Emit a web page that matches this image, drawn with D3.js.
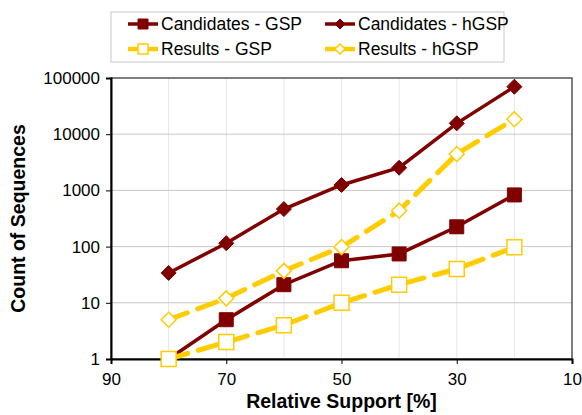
<!DOCTYPE html>
<html>
<head>
<meta charset="utf-8">
<script src="https://cdn.jsdelivr.net/npm/d3@7"></script>
<style>
  body { margin: 0; background: #fff; }
  text { font-family: "Liberation Sans", Arial, sans-serif; }
</style>
</head>
<body>
<svg id="chart" width="582" height="415"></svg>
<script>
// chart data
var support = [80, 70, 60, 50, 40, 30, 20];
var candGSP = [1, 5, 21, 56, 74, 225, 830];
var candHGSP = [34, 115, 465, 1250, 2530, 15600, 70000];
var resGSP = [1, 2, 4, 10, 21, 40, 97];
var resHGSP = [5, 12, 37, 98, 436, 4450, 18500];
var xTicks = [90, 70, 50, 30, 10];
var yTicks = [1, 10, 100, 1000, 10000, 100000];

var series = [
  { name: "Candidates - GSP", values: candGSP, color: "#800000", shape: "square", filled: true, dash: null },
  { name: "Candidates - hGSP", values: candHGSP, color: "#800000", shape: "diamond", filled: true, dash: null },
  { name: "Results - GSP", values: resGSP, color: "#ffcc00", shape: "square", filled: false, dash: "20,11" },
  { name: "Results - hGSP", values: resHGSP, color: "#ffcc00", shape: "diamond", filled: false, dash: "20,11" }
];

var svg = d3.select("#chart");
var plotL = 111, plotR = 572, plotT = 78, plotB = 359;

var x = d3.scaleLinear().domain([90, 10]).range([plotL, plotR]);
var y = d3.scaleLog().domain([1, 100000]).range([plotB, plotT]);

// grid
var g = svg.append("g");
g.selectAll("line.vg")
  .data(d3.range(80, 10, -10))
  .join("line")
  .attr("x1", d => x(d)).attr("x2", d => x(d))
  .attr("y1", plotT).attr("y2", plotB)
  .attr("stroke", "#e6e6e6").attr("stroke-width", 1);
g.selectAll("line.hg")
  .data(yTicks.slice(1, -1))
  .join("line")
  .attr("x1", plotL).attr("x2", plotR)
  .attr("y1", d => y(d)).attr("y2", d => y(d))
  .attr("stroke", "#c8c8c8").attr("stroke-width", 1);

// frame
svg.append("rect")
  .attr("x", plotL).attr("y", plotT)
  .attr("width", plotR - plotL).attr("height", plotB - plotT)
  .attr("fill", "none").attr("stroke", "#555").attr("stroke-width", 1.5);

// axes
var xAxis = d3.axisBottom(x).tickValues(xTicks).tickSize(5).tickPadding(9);
var yAxis = d3.axisLeft(y).tickValues(yTicks).tickFormat(d3.format("d")).tickSize(5).tickPadding(6);

var xg = svg.append("g").attr("transform", "translate(0," + plotB + ")").call(xAxis);
var yg = svg.append("g").attr("transform", "translate(" + plotL + ",0)").call(yAxis);
[xg, yg].forEach(function (a) {
  a.select(".domain").attr("stroke", "#000").attr("stroke-width", 2);
  a.selectAll(".tick line").attr("stroke", "#000").attr("stroke-width", 1);
  a.selectAll(".tick text").attr("fill", "#000").style("font-size", "17px")
    .style("font-family", "'Liberation Sans', Arial, sans-serif");
});

// axis titles
svg.append("text")
  .attr("x", (plotL + plotR) / 2).attr("y", 408)
  .attr("text-anchor", "middle")
  .style("font-size", "19.5px").style("font-weight", "bold")
  .text("Relative Support [%]");
svg.append("text")
  .attr("transform", "translate(25," + (plotT + plotB) / 2 + ") rotate(-90)")
  .attr("text-anchor", "middle")
  .style("font-size", "19.5px").style("font-weight", "bold")
  .text("Count of Sequences");

// square or rotated-square marker, size = width of the shape
function shapePath(shape, size) {
  var r = size / 2;
  if (shape === "square") return "M" + -r + "," + -r + "H" + r + "V" + r + "H" + -r + "Z";
  return "M0," + -r + "L" + r + ",0L0," + r + "L" + -r + ",0Z";
}

function marker(sel, s, size) {
  sel.attr("d", shapePath(s.shape, size))
    .attr("fill", s.filled ? s.color : "#fff")
    .attr("stroke", s.color)
    .attr("stroke-width", s.filled ? 1 : 1.5);
}

var line = d3.line().x(d => x(d[0])).y(d => y(d[1]));

series.forEach(function (s) {
  var pts = support.map((v, i) => [v, s.values[i]]);
  var sg = svg.append("g");
  sg.append("path")
    .datum(pts)
    .attr("d", line)
    .attr("fill", "none")
    .attr("stroke", s.color)
    .attr("stroke-width", s.dash ? 5 : 3.5)
    .attr("stroke-linecap", s.dash ? "round" : "butt")
    .attr("stroke-dasharray", s.dash);
  sg.selectAll("path.m")
    .data(pts)
    .join("path")
    .attr("class", "m")
    .attr("transform", d => "translate(" + x(d[0]) + "," + y(d[1]) + ")")
    .call(marker, s, s.shape === "square" ? (s.filled ? 14 : 15) : 15);
});

// legend
var lg = svg.append("g");
lg.append("rect")
  .attr("x", 111).attr("y", 12).attr("width", 393).attr("height", 50)
  .attr("fill", "#fff").attr("stroke", "#c8c8c8").attr("stroke-width", 1);
var lx = [128, 325], ly = [24, 49];
series.forEach(function (s, i) {
  var cx = lx[i % 2], cy = ly[Math.floor(i / 2)];
  lg.append("line")
    .attr("x1", cx).attr("x2", cx + 30)
    .attr("y1", cy).attr("y2", cy)
    .attr("stroke", s.color).attr("stroke-width", s.dash ? 4.5 : 3.5);
  lg.append("path")
    .attr("transform", "translate(" + (cx + 15) + "," + cy + ")")
    .call(marker, s, s.shape === "square" ? 10 : 10);
  lg.append("text")
    .attr("x", cx + 33).attr("y", cy + 6)
    .style("font-size", "17.5px")
    .text(s.name);
});
</script>
</body>
</html>
